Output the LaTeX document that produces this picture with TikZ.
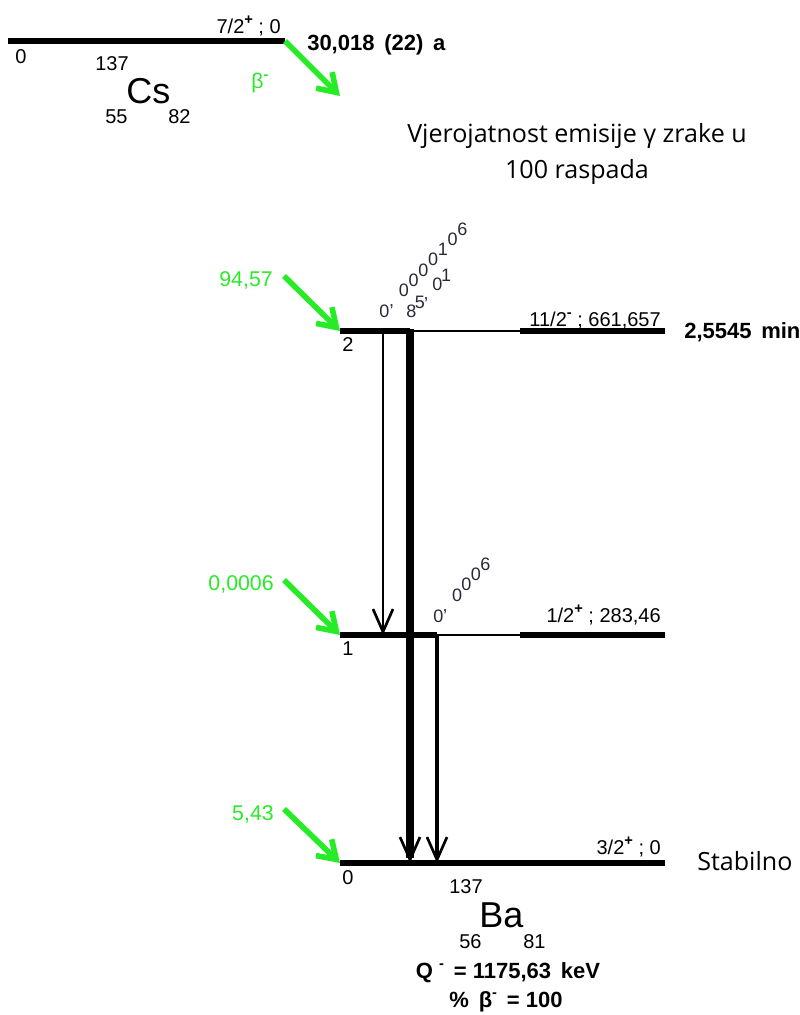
\documentclass[tikz,border=0pt]{standalone}
\usepackage{fontspec}
\setmainfont{Liberation Sans}
\newfontfamily\notefont{Open Sans}
\usetikzlibrary{arrows.meta}

\definecolor{betagreen}{RGB}{40,235,40}
\definecolor{labgray}{RGB}{40,40,55}

\newcommand{\upsign}[1]{\raisebox{0.42em}{\fontsize{11}{11}\selectfont\bfseries #1}}

\tikzset{
  lvl/.style={line width=4pt},
  lvlthin/.style={line width=1pt},
  feed/.style={betagreen,line width=4.2pt,-{Straight Barb[length=13pt,width=17pt]}},
  gam/.style={-{Straight Barb[length=17pt,width=15pt,line width=2pt]}},
  lbl/.style={inner sep=0pt,font=\fontsize{15}{17}\selectfont},
  big/.style={inner sep=0pt,font=\fontsize{27}{30}\selectfont},
  bold/.style={inner sep=0pt,font=\fontsize{16.5}{19}\selectfont\bfseries},
  glbl/.style={inner sep=0pt,text=betagreen,font=\fontsize{16}{19}\selectfont},
  note/.style={inner sep=0pt,font=\fontsize{18.8}{27.5}\notefont},
  stair/.style={inner sep=0pt,anchor=base west,text=labgray,font=\fontsize{13.5}{15}\selectfont}
}

% upright characters stepped along a diagonal
\newcommand{\stairtext}[6]{%
  \foreach \ch [count=\k from 0] in {#6}
    \node[stair] (#1\k) at (#2+\k*#4,#3-\k*#5) {\ch};}

\begin{document}
\begin{tikzpicture}[x=0.75pt,y=-0.75pt]
  \useasboundingbox (0,0) rectangle (800,1015);

  % parent 137Cs
  \coordinate (cs0) at (8,41);
  \coordinate (cs1) at (285,41);
  \coordinate (csb) at (340,96);
  \draw[lvl] (cs0) -- (cs1);
  \draw[feed] (cs1) -- (csb);
  \node[lbl,anchor=base east] (csspin) at (281,33) {7/2\upsign{+} ; 0};
  \node[lbl,anchor=base west] (cszero) at (15,63) {0};
  \node[lbl,anchor=base west] (csA) at (95,70) {137};
  \node[big,anchor=base west] (csname) at (126,103) {Cs};
  \node[lbl,anchor=base west] (csZ) at (105,123) {55};
  \node[lbl,anchor=base west] (csN) at (168,123) {82};
  \node[glbl,anchor=base west] (beta) at (251,88) {β\upsign{-}};
  \node[bold,anchor=base west] (cshalf) at (307,50) {30,018\, (22)\, a};

  \node[note,align=center] (note) at (577,154) {Vjerojatnost emisije γ zrake u\\100 raspada};

  % daughter levels of 137Ba
  \coordinate (b2l) at (340,331);
  \coordinate (b2m) at (410,331);
  \coordinate (b2n) at (520,331);
  \coordinate (b2r) at (665,331);
  \coordinate (b1l) at (340,635);
  \coordinate (b1m) at (437,635);
  \coordinate (b1n) at (520,635);
  \coordinate (b1r) at (665,635);
  \coordinate (b0l) at (340,863);
  \coordinate (b0r) at (665,863);

  \draw[lvl] (b2l) -- (b2m);
  \draw[lvlthin] (b2m) -- (b2n);
  \draw[lvl] (b2n) -- (b2r);
  \draw[lvl] (b1l) -- (b1m);
  \draw[lvlthin] (b1m) -- (b1n);
  \draw[lvl] (b1n) -- (b1r);
  \draw[lvl] (b0l) -- (b0r);

  % beta feeding
  \coordinate (f2) at (284,276);
  \coordinate (f1) at (284,580);
  \coordinate (f0) at (284,809);
  \draw[feed] (f2) -- (b2l);
  \draw[feed] (f1) -- (b1l);
  \draw[feed] (f0) -- (b0l);
  \node[glbl,anchor=base east] (i2) at (273,286) {94,57};
  \node[glbl,anchor=base east] (i1) at (274,590) {0,0006};
  \node[glbl,anchor=base east] (i0) at (274,820) {5,43};

  % level labels
  \node[lbl,anchor=base west] (n2) at (342,351) {2};
  \node[lbl,anchor=base west] (n1) at (342,655) {1};
  \node[lbl,anchor=base west] (n0) at (342,884) {0};
  \node[lbl,anchor=base east] (e2) at (661,326) {11/2\upsign{-} ; 661,657};
  \node[lbl,anchor=base east] (e1) at (661,622) {1/2\upsign{+} ; 283,46};
  \node[lbl,anchor=base east] (e0) at (661,854) {3/2\upsign{+} ; 0};
  \node[bold,anchor=base west] (t2) at (684,338) {2,5545\, min};
  \node[note,anchor=base west] (t0) at (697,870) {Stabilno};

  % gamma transitions
  \coordinate (g21a) at (383,331);
  \coordinate (g21b) at (383,635);
  \coordinate (g20a) at (410,329);
  \coordinate (g20b) at (410,863);
  \coordinate (g10a) at (437,635);
  \coordinate (g10b) at (437,863);
  \draw[gam,line width=2pt] (g21a) -- (g21b);
  \draw[gam,line width=6.5pt] (g20a) -- (g20b);
  \draw[gam,line width=3pt] (g10a) -- (g10b);

  \stairtext{ga}{379}{317}{9.75}{10.25}{0,{,},0,0,0,0,1,0,6}
  \stairtext{gb}{406}{317}{8.7}{9}{8,5,{,},0,1}
  \stairtext{gc}{433}{622}{9.4}{10.4}{0,{,},0,0,0,6}

  % daughter 137Ba
  \node[lbl,anchor=base west] (baA) at (449,893) {137};
  \node[big,anchor=base west] (baname) at (479,927) {Ba};
  \node[lbl,anchor=base west] (baZ) at (459,948) {56};
  \node[lbl,anchor=base west] (baN) at (523,948) {81};
  \node[bold,anchor=base] (qval) at (508,978) {Q \upsign{-}\, = 1175,63\, keV};
  \node[bold,anchor=base] (brat) at (506,1007) {\%\, β\upsign{-}\, = 100};
\end{tikzpicture}
\end{document}
